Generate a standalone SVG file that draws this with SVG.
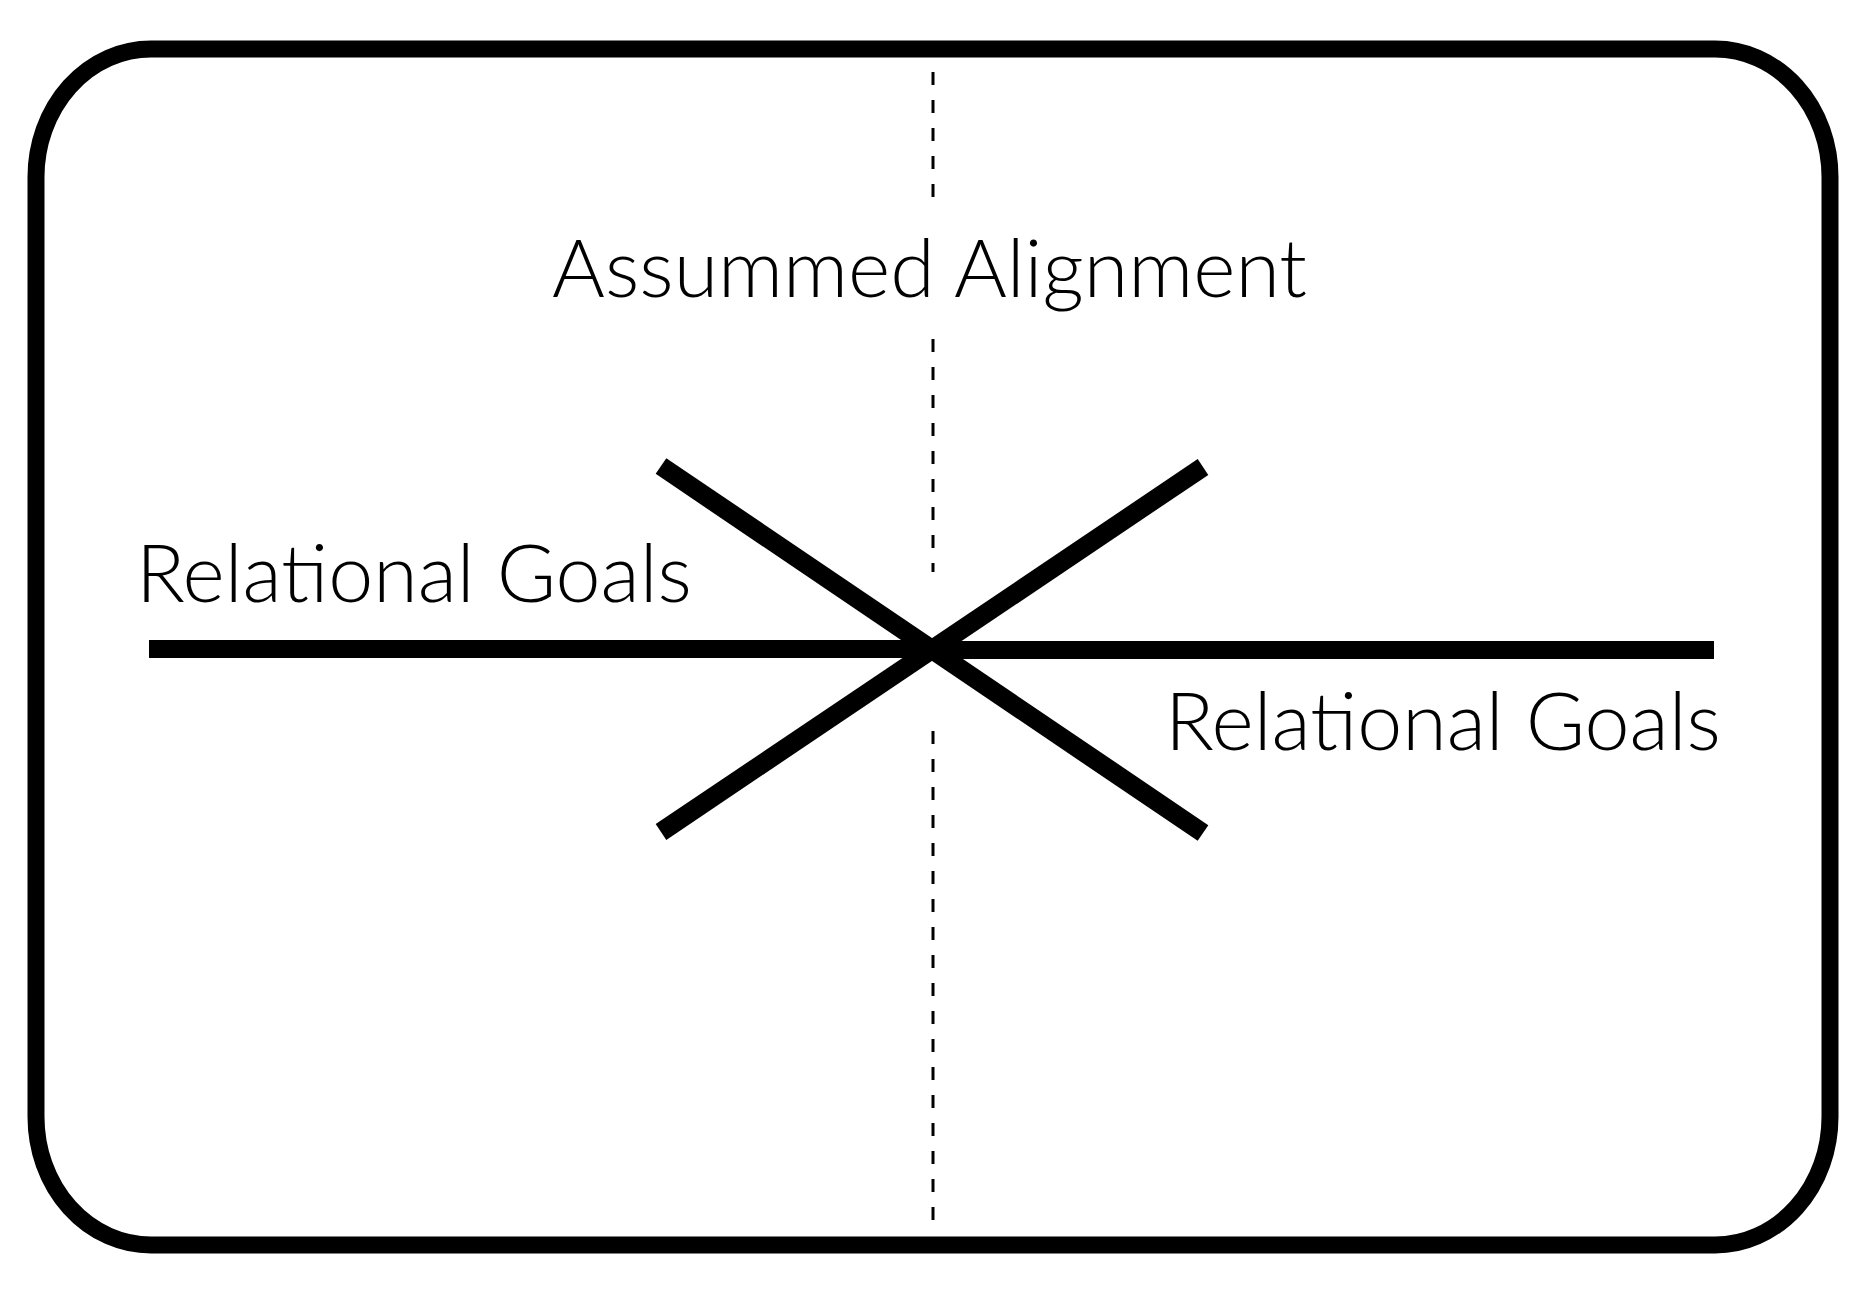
<svg xmlns="http://www.w3.org/2000/svg" width="1860" height="1291" viewBox="0 0 1860 1291">
<style>
.frame{fill:none;stroke:#000;stroke-width:17}
.bar{stroke:#000;stroke-width:18;fill:none}
.diag{stroke:#000;stroke-width:19;fill:none}
.dash{stroke:#000;stroke-width:3;stroke-dasharray:13 15;fill:none}
.lbl{font-family:Lato,"Open Sans","Liberation Sans",sans-serif;font-weight:300;font-size:80.8px;fill:#000}
</style>
<rect width="1860" height="1291" fill="#fff"/>
<g id="frame"><rect class="frame" x="36" y="49" width="1794" height="1196" rx="115" ry="128"/></g>
<g id="connectors">
<line class="dash" x1="933" y1="72" x2="933" y2="202"/>
<line class="dash" x1="933" y1="339" x2="933" y2="572"/>
<line class="dash" x1="933" y1="731" x2="933" y2="1228"/>
<line class="bar" x1="149" y1="649" x2="932" y2="649"/>
<line class="bar" x1="932" y1="650" x2="1714" y2="650"/>
<line class="diag" x1="661" y1="466" x2="1203" y2="833"/>
<line class="diag" x1="1203" y1="467" x2="661" y2="832"/>
</g>
<g id="label-assumed"><text class="lbl" x="552" y="297">Assummed Alignment</text></g>
<g id="label-left"><text class="lbl" x="136" y="602">Relational Goals</text></g>
<g id="label-right"><text class="lbl" x="1165" y="750">Relational Goals</text></g>
</svg>
